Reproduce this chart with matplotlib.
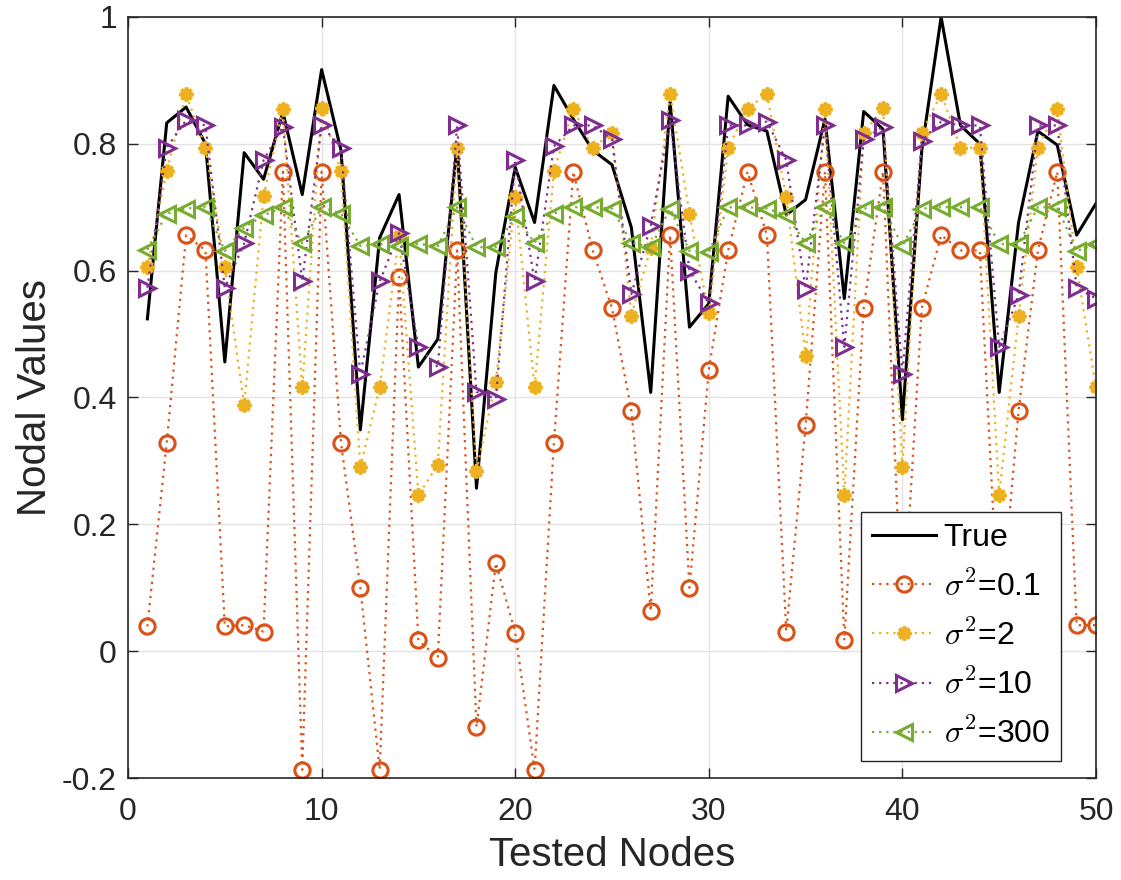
import numpy as np
import matplotlib
matplotlib.use('Agg')
import matplotlib.pyplot as plt

plt.rcParams['font.family'] = ['Liberation Sans', 'DejaVu Sans']
plt.rcParams['mathtext.fontset'] = 'cm'

nodes = np.arange(1, 51)

trueVals = [0.524, 0.833, 0.858, 0.80, 0.456, 0.786, 0.744, 0.850, 0.720, 0.917,
            0.790, 0.349, 0.652, 0.720, 0.448, 0.492, 0.800, 0.257, 0.597, 0.763,
            0.676, 0.892, 0.839, 0.790, 0.767, 0.668, 0.408, 0.867, 0.511, 0.548,
            0.875, 0.830, 0.820, 0.688, 0.712, 0.839, 0.556, 0.851, 0.823, 0.365,
            0.790, 1.000, 0.829, 0.800, 0.408, 0.676, 0.820, 0.798, 0.656, 0.706]

sig01 = [0.039, 0.329, 0.656, 0.632, 0.039, 0.041, 0.031, 0.756, -0.187, 0.756,
         0.329, 0.100, -0.187, 0.590, 0.017, -0.010, 0.632, -0.120, 0.139, 0.029,
         -0.187, 0.329, 0.756, 0.632, 0.541, 0.379, 0.063, 0.656, 0.100, 0.444,
         0.632, 0.756, 0.656, 0.031, 0.356, 0.756, 0.017, 0.541, 0.756, 0.030,
         0.541, 0.656, 0.632, 0.632, 0.030, 0.379, 0.632, 0.756, 0.041, 0.041]

sig2 = [0.606, 0.757, 0.878, 0.794, 0.606, 0.388, 0.717, 0.855, 0.416, 0.856,
        0.757, 0.290, 0.416, 0.655, 0.246, 0.294, 0.794, 0.284, 0.425, 0.716,
        0.416, 0.757, 0.855, 0.794, 0.817, 0.529, 0.636, 0.879, 0.690, 0.533,
        0.794, 0.855, 0.879, 0.716, 0.466, 0.855, 0.246, 0.817, 0.856, 0.290,
        0.817, 0.879, 0.794, 0.794, 0.246, 0.528, 0.794, 0.855, 0.606, 0.416]

sig10 = [0.573, 0.794, 0.837, 0.829, 0.573, 0.643, 0.774, 0.827, 0.584, 0.829,
         0.794, 0.437, 0.583, 0.659, 0.480, 0.448, 0.829, 0.409, 0.398, 0.774,
         0.583, 0.796, 0.829, 0.829, 0.807, 0.563, 0.671, 0.837, 0.600, 0.549,
         0.829, 0.829, 0.835, 0.774, 0.571, 0.829, 0.480, 0.807, 0.827, 0.437,
         0.805, 0.835, 0.829, 0.829, 0.480, 0.561, 0.829, 0.829, 0.573, 0.556]

sig300 = [0.633, 0.690, 0.698, 0.700, 0.631, 0.668, 0.687, 0.700, 0.643, 0.700,
          0.690, 0.639, 0.642, 0.639, 0.642, 0.639, 0.700, 0.637, 0.637, 0.686,
          0.644, 0.690, 0.700, 0.700, 0.698, 0.644, 0.637, 0.698, 0.631, 0.629,
          0.700, 0.700, 0.698, 0.687, 0.644, 0.700, 0.643, 0.698, 0.700, 0.639,
          0.698, 0.700, 0.700, 0.700, 0.642, 0.642, 0.700, 0.700, 0.631, 0.642]

dotted = (0, (1, 2.2))
asterisk = (8, 2, 0)   # MATLAB-style '*'

fig = plt.figure(figsize=(11.21, 8.8), dpi=100)
ax = fig.add_axes([0.1142, 0.1159, 0.8635, 0.8648])

ax.plot(nodes, trueVals, '-', color='black', linewidth=2.2, label='True')
ax.plot(nodes, sig01, linestyle=dotted, color='#D95319', linewidth=1.6,
        marker='o', markersize=11, markerfacecolor='none', markeredgewidth=2.2,
        label=r'$\sigma^{\mathsf{2}}$=0.1')
ax.plot(nodes, sig2, linestyle=dotted, color='#EDB120', linewidth=1.6,
        marker=asterisk, markersize=10, markeredgewidth=2.6,
        label=r'$\sigma^{\mathsf{2}}$=2')
ax.plot(nodes, sig10, linestyle=dotted, color='#7E2F8E', linewidth=1.6,
        marker='>', markersize=11, markerfacecolor='none', markeredgewidth=2.2,
        label=r'$\sigma^{\mathsf{2}}$=10')
ax.plot(nodes, sig300, linestyle=dotted, color='#77AC30', linewidth=1.6,
        marker='<', markersize=11, markerfacecolor='none', markeredgewidth=2.2,
        label=r'$\sigma^{\mathsf{2}}$=300')

ax.set_xlim(0, 50)
ax.set_ylim(-0.2, 1)
ax.set_xticks(np.arange(0, 51, 10))
ax.set_yticks([-0.2, 0, 0.2, 0.4, 0.6, 0.8, 1])
ax.set_yticklabels(['-0.2', '0', '0.2', '0.4', '0.6', '0.8', '1'])
ax.tick_params(direction='in', length=7, width=1, labelsize=23, colors='#262626',
               top=True, right=True)
ax.tick_params(axis='x', pad=14)
ax.tick_params(axis='y', pad=8)
ax.grid(True, color='#e3e3e3', linewidth=1)
ax.set_axisbelow(True)
for sp in ax.spines.values():
    sp.set_color('#262626')
    sp.set_linewidth(1.2)

ax.set_xlabel('Tested Nodes', fontsize=29, color='#262626', labelpad=6)
ax.set_ylabel('Nodal Values', fontsize=29, color='#262626', labelpad=6)

leg = ax.legend(loc='lower right', bbox_to_anchor=(0.9638, 0.0223), fontsize=23,
                frameon=True, fancybox=False, framealpha=1, edgecolor='#262626',
                handlelength=2.0, handletextpad=0.25, borderpad=0.35,
                labelspacing=0.55, borderaxespad=0)
leg.get_frame().set_linewidth(1)

fig.savefig('out.png', dpi=100)
